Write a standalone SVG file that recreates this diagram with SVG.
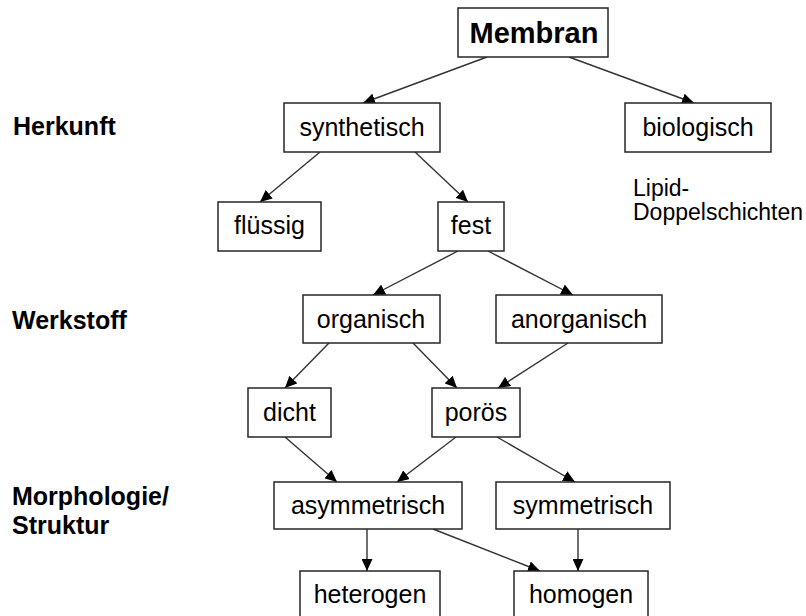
<svg xmlns="http://www.w3.org/2000/svg" width="806" height="616" viewBox="0 0 806 616">
  <style>
    .box { fill: #ffffff; stroke: #262626; stroke-width: 1.5; }
    .lbl { font-family: "Liberation Sans", Arial, sans-serif; font-size: 25px; fill: #000; text-anchor: middle; }
    .title { font-family: "Liberation Sans", Arial, sans-serif; font-size: 29px; font-weight: bold; fill: #000; text-anchor: middle; }
    .cat { font-family: "Liberation Sans", Arial, sans-serif; font-size: 25px; font-weight: bold; fill: #000; }
    .note { font-family: "Liberation Sans", Arial, sans-serif; font-size: 23px; fill: #000; }
    .edge { stroke: #333; stroke-width: 1.4; fill: none; marker-end: url(#arrow); }
  </style>
  <defs>
    <marker id="arrow" markerUnits="userSpaceOnUse" markerWidth="13" markerHeight="11" refX="12" refY="5.5" orient="auto">
      <path d="M0,0 L12,5.5 L0,11 Z" fill="#000"/>
    </marker>
  </defs>
  <rect width="806" height="616" fill="#fff"/>

  <!-- category labels -->
  <g id="categories">
    <text class="cat" x="13" y="135">Herkunft</text>
    <text class="cat" x="12" y="329">Werkstoff</text>
    <text class="cat" x="12" y="505">Morphologie/</text>
    <text class="cat" x="12" y="534">Struktur</text>
  </g>

  <!-- connectors -->
  <g id="connectors">
    <line class="edge" x1="487" y1="57" x2="363" y2="103"/>
    <line class="edge" x1="569" y1="57" x2="694" y2="103"/>
    <line class="edge" x1="320" y1="152" x2="260" y2="202"/>
    <line class="edge" x1="415" y1="152" x2="468" y2="202"/>
    <line class="edge" x1="458" y1="251" x2="373" y2="295"/>
    <line class="edge" x1="488" y1="251" x2="573" y2="295"/>
    <line class="edge" x1="329" y1="343" x2="285" y2="388"/>
    <line class="edge" x1="413" y1="343" x2="457" y2="388"/>
    <line class="edge" x1="568" y1="343" x2="498" y2="388"/>
    <line class="edge" x1="285" y1="437" x2="337" y2="482"/>
    <line class="edge" x1="456" y1="437" x2="397" y2="482"/>
    <line class="edge" x1="497" y1="437" x2="575" y2="482"/>
    <line class="edge" x1="367" y1="529" x2="367" y2="571"/>
    <line class="edge" x1="433" y1="529" x2="540" y2="571"/>
    <line class="edge" x1="578" y1="529" x2="578" y2="571"/>
  </g>

  <!-- nodes -->
  <g id="membran">
    <rect class="box" x="458" y="8" width="150" height="49"/>
    <text class="title" x="534" y="43">Membran</text>
  </g>
  <g id="synthetisch">
    <rect class="box" x="284" y="103" width="156" height="49"/>
    <text class="lbl" x="362" y="136">synthetisch</text>
  </g>
  <g id="biologisch">
    <rect class="box" x="625" y="103" width="146" height="49"/>
    <text class="lbl" x="698" y="136">biologisch</text>
  </g>
  <g id="lipid">
    <text class="note" x="633" y="196">Lipid-</text>
    <text class="note" x="633" y="220">Doppelschichten</text>
  </g>
  <g id="fluessig">
    <rect class="box" x="218" y="202" width="103" height="49"/>
    <text class="lbl" x="269.5" y="234">flüssig</text>
  </g>
  <g id="fest">
    <rect class="box" x="438" y="202" width="66" height="49"/>
    <text class="lbl" x="471" y="234">fest</text>
  </g>
  <g id="organisch">
    <rect class="box" x="303" y="295" width="137" height="48"/>
    <text class="lbl" x="371" y="328">organisch</text>
  </g>
  <g id="anorganisch">
    <rect class="box" x="496" y="295" width="166" height="48"/>
    <text class="lbl" x="579" y="328">anorganisch</text>
  </g>
  <g id="dicht">
    <rect class="box" x="248" y="388" width="83" height="49"/>
    <text class="lbl" x="289.5" y="421">dicht</text>
  </g>
  <g id="poroes">
    <rect class="box" x="432" y="388" width="88" height="49"/>
    <text class="lbl" x="476" y="421">porös</text>
  </g>
  <g id="asymmetrisch">
    <rect class="box" x="274" y="482" width="188" height="47"/>
    <text class="lbl" x="368" y="514">asymmetrisch</text>
  </g>
  <g id="symmetrisch">
    <rect class="box" x="496" y="482" width="174" height="47"/>
    <text class="lbl" x="583" y="514">symmetrisch</text>
  </g>
  <g id="heterogen">
    <rect class="box" x="300" y="571" width="140" height="60"/>
    <text class="lbl" x="370" y="603">heterogen</text>
  </g>
  <g id="homogen">
    <rect class="box" x="514" y="571" width="134" height="60"/>
    <text class="lbl" x="581" y="603">homogen</text>
  </g>
</svg>
